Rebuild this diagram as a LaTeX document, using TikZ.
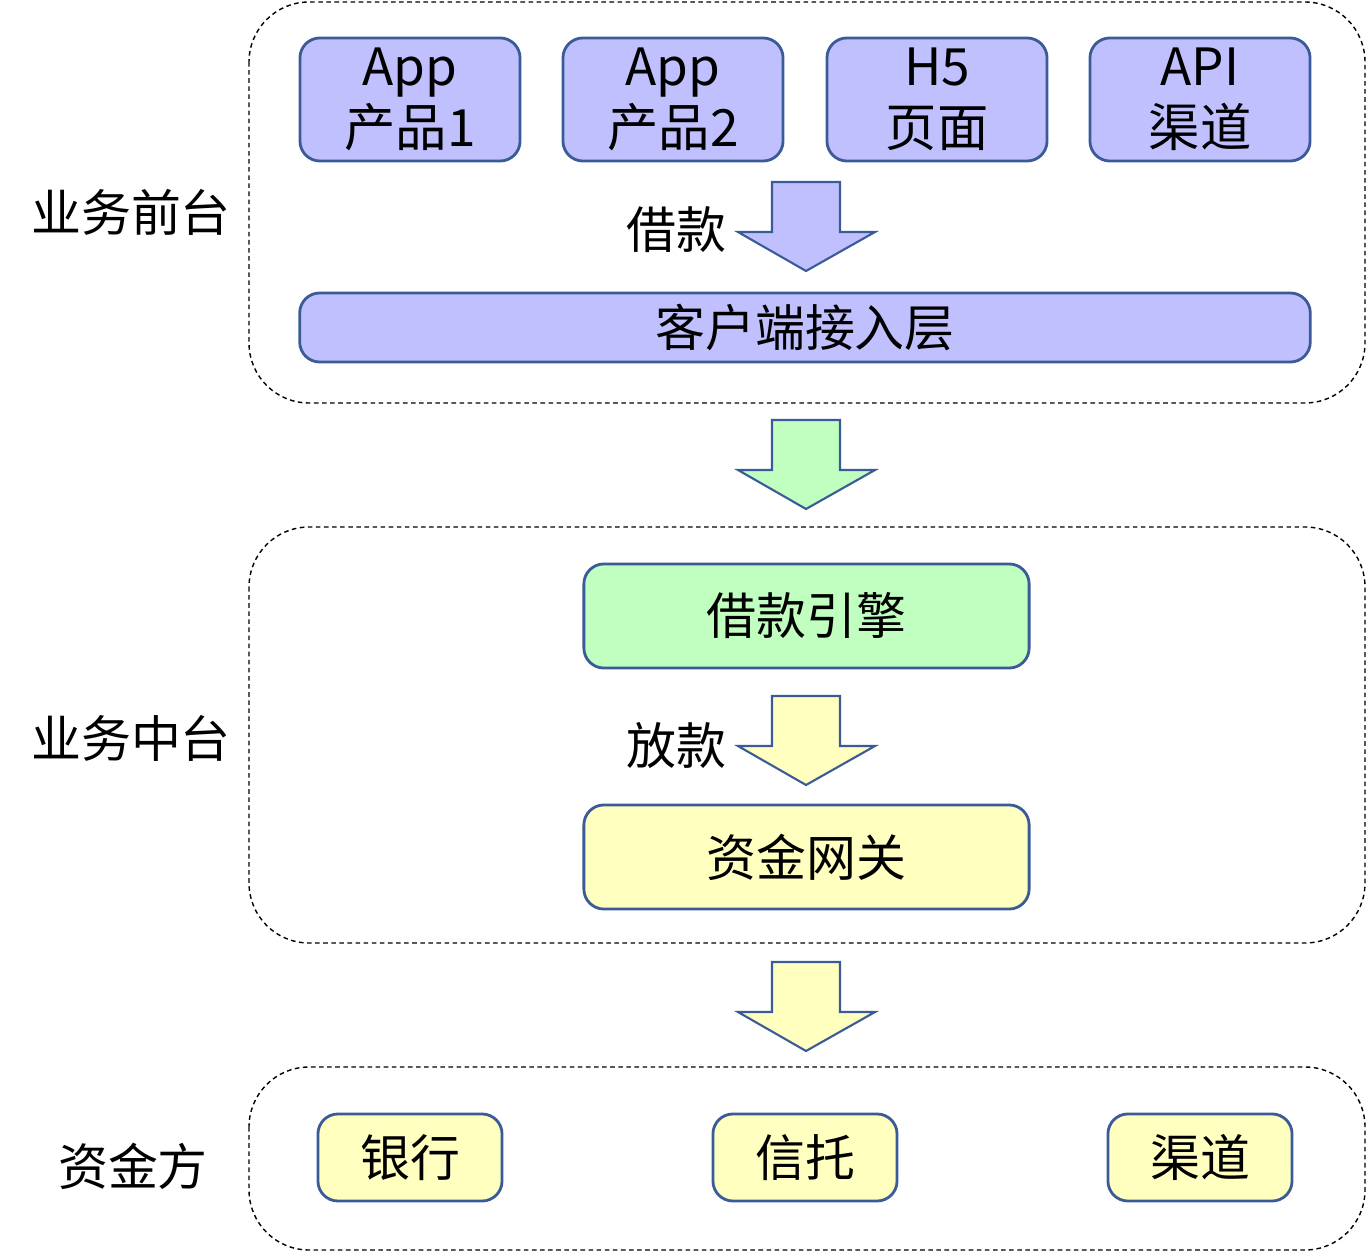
\documentclass[tikz,border=0pt]{standalone}
\usepackage{fontspec}
\setmainfont{Noto Sans CJK SC}
\definecolor{lineBlue}{HTML}{3A5A98}
\definecolor{fillBlue}{HTML}{C0C0FF}
\definecolor{fillGreen}{HTML}{C0FFC0}
\definecolor{fillYellow}{HTML}{FFFFC0}
\tikzset{
  zone/.style={draw=black, line width=0.4pt, dash pattern=on 1.3pt off 1pt, rounded corners=0.6cm},
  box/.style={draw=lineBlue, line width=0.8pt, rounded corners=0.2cm, align=center,
    font=\fontsize{14.2}{16.5}\selectfont, inner sep=0pt},
  topbox/.style={box, fill=fillBlue, minimum width=2.2cm, minimum height=1.23cm,
    font=\fontsize{14.6}{17.2}\selectfont},
  srcbox/.style={box, fill=fillYellow, minimum width=1.84cm, minimum height=0.87cm},
  bigarrow/.style={draw=lineBlue, line width=0.6pt},
  lbl/.style={font=\fontsize{14.2}{16.5}\selectfont, inner sep=0pt}
}
\begin{document}
\begin{tikzpicture}[x=0.01cm, y=-0.01cm]
\useasboundingbox (0,0) rectangle (1366,1252);

\draw[zone] (249,2) rectangle (1365,403);
\draw[zone] (249,527) rectangle (1365,943);
\draw[zone] (249,1067) rectangle (1365,1250);

\node[lbl] (front) at (131,212) {业务前台};
\node[lbl] (middle) at (131,738) {业务中台};
\node[lbl] (funder) at (133,1166) {资金方};

\node[topbox] (app1) at (410,99.5) {App\\产品1};
\node[topbox] (app2) at (673,99.5) {App\\产品2};
\node[topbox] (h5) at (937,99.5) {H5\\页面};
\node[topbox] (api) at (1200,99.5) {API\\渠道};

\node[box, fill=fillBlue, minimum width=10.1cm, minimum height=0.69cm] (access) at (805,327.5) {客户端接入层};
\node[box, fill=fillGreen, minimum width=4.45cm, minimum height=1.04cm] (engine) at (806.5,616) {借款引擎};
\node[box, fill=fillYellow, minimum width=4.45cm, minimum height=1.04cm] (gateway) at (806.5,857) {资金网关};

\node[srcbox] (bank) at (410,1157.5) {银行};
\node[srcbox] (trust) at (805,1157.5) {信托};
\node[srcbox] (channel) at (1200,1157.5) {渠道};

\foreach \y/\c in {182/fillBlue,420/fillGreen,696/fillYellow,962/fillYellow}
  \draw[bigarrow, fill=\c] (772,\y) -- (840,\y) -- (840,\y+50) -- (875,\y+50)
    -- (806,\y+89) -- (738,\y+50) -- (772,\y+50) -- cycle;

\node[lbl] (borrow) at (676,230) {借款};
\node[lbl] (lend) at (676,746) {放款};
\end{tikzpicture}
\end{document}
